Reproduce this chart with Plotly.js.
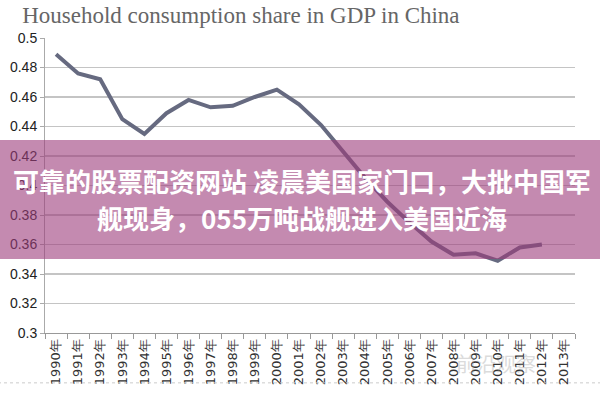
<!DOCTYPE html>
<html>
<head>
<meta charset="utf-8">
<script src="https://cdn.plot.ly/plotly-3.0.1.min.js"></script>
<style>html,body{margin:0;padding:0;background:#fff;}#chart{width:600px;height:400px;}</style>
</head>
<body>
<div id="chart"></div>
<script>
const years = ["1990年","1991年","1992年","1993年","1994年","1995年","1996年","1997年","1998年","1999年","2000年","2001年","2002年","2003年","2004年","2005年","2006年","2007年","2008年","2009年","2010年","2011年","2012年","2013年"];
const shareValues = [0.489,0.476,0.472,0.445,0.435,0.449,0.458,0.453,0.454,0.460,0.465,0.455,0.441,0.423,0.405,0.389,0.375,0.362,0.353,0.354,0.349,0.358,0.360,null];
const chartTitle = "Household consumption share in GDP in China";
const bannerLine1 = "可靠的股票配资网站 凌晨美国家门口，大批中国军";
const bannerLine2 = "舰现身，055万吨战舰进入美国近海";
const watermark = "前沿观察";

const trace = {
  x: years, y: shareValues, type: 'scatter', mode: 'lines',
  line: {color: '#666a80', width: 4}, connectgaps: false, hoverinfo: 'skip'
};

const layout = {
  width: 600, height: 400,
  margin: {l: 45, r: 25, t: 38, b: 67},
  paper_bgcolor: '#fff', plot_bgcolor: '#fff',
  showlegend: false,
  title: {text: chartTitle, x: 0.037, xanchor: 'left', y: 0.962, yanchor: 'middle',
          font: {family: 'Liberation Serif, serif', size: 23, color: '#666'}},
  xaxis: {type: 'category', showgrid: false, showline: true, linecolor: '#999', linewidth: 1,
          ticks: 'outside', tickson: 'boundaries', ticklen: 5, tickcolor: '#999',
          tickangle: -90, tickfont: {family: 'DejaVu Sans, sans-serif', size: 13, color: '#333'},
          range: [-0.5, 23.5], fixedrange: true},
  yaxis: {range: [0.3, 0.5], dtick: 0.02, tick0: 0.3, showgrid: true, gridcolor: '#c4c4c4', gridwidth: 1.5,
          zeroline: false, showline: true, linecolor: '#aaa', ticks: 'outside', ticklen: 4, tickcolor: '#aaa',
          tickfont: {family: 'Liberation Sans, Arial, sans-serif', size: 14, color: '#222'}, fixedrange: true},
  shapes: [
    {type: 'rect', xref: 'paper', yref: 'paper', x0: -0.1, x1: 1.1, y0: 0.251, y1: 0.654,
     fillcolor: 'rgba(157,60,123,0.6)', line: {width: 0}, layer: 'above'},
    {type: 'line', xref: 'paper', yref: 'paper', x0: -0.1, x1: 1.1, y0: -0.169, y1: -0.169,
     line: {color: '#ccc', width: 1, dash: 'dot'}}
  ],
  annotations: [
    {text: '<b>' + bannerLine1 + '</b>', xref: 'paper', yref: 'paper', x: 0.485, y: 0.516,
     showarrow: false, borderpad: 0, font: {family: 'Noto Sans CJK SC, sans-serif', size: 26, color: '#fff'}},
    {text: '<b>' + bannerLine2 + '</b>', xref: 'paper', yref: 'paper', x: 0.485, y: 0.392,
     showarrow: false, borderpad: 0, font: {family: 'Noto Sans CJK SC, sans-serif', size: 26, color: '#fff'}},
    {text: watermark, xref: 'paper', yref: 'paper', x: 0.93, y: -0.16,
     showarrow: false, opacity: 0.35, font: {family: 'Noto Sans CJK SC, sans-serif', size: 20, color: '#999'}}
  ]
};

Plotly.newPlot('chart', [trace], layout, {displayModeBar: false, staticPlot: true});
</script>
</body>
</html>
